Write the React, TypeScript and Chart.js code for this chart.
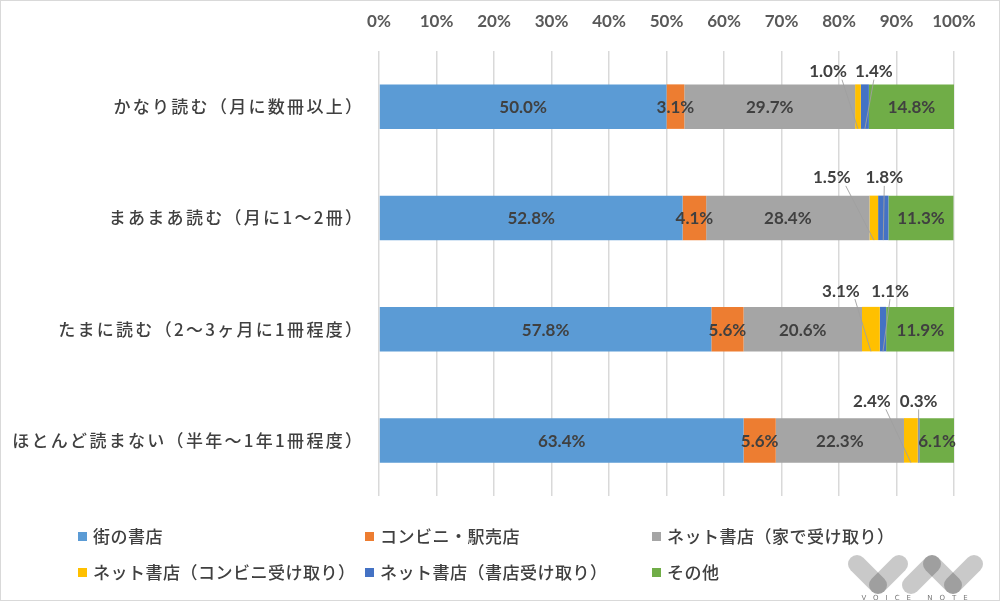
import { useEffect, useRef } from "react";
import { Chart, registerables } from "chart.js";

Chart.register(...registerables);

// ---- data ----
const categories = [
  "かなり読む（月に数冊以上）",
  "まあまあ読む（月に1～2冊）",
  "たまに読む（2～3ヶ月に1冊程度）",
  "ほとんど読まない（半年～1年1冊程度）",
];
const seriesNames = [
  "街の書店",
  "コンビニ・駅売店",
  "ネット書店（家で受け取り）",
  "ネット書店（コンビニ受け取り）",
  "ネット書店（書店受け取り）",
  "その他",
];
const machiShoten = [50.0, 52.8, 57.8, 63.4];
const konbiniEki = [3.1, 4.1, 5.6, 5.6];
const netHome = [29.7, 28.4, 20.6, 22.3];
const netKonbini = [1.0, 1.5, 3.1, 2.4];
const netShoten = [1.4, 1.8, 1.1, 0.3];
const sonota = [14.8, 11.3, 11.9, 6.1];
const xTickLabels = ["0%", "10%", "20%", "30%", "40%", "50%", "60%", "70%", "80%", "90%", "100%"];

// ---- styles ----
const colors = ["#5b9bd5", "#ed7d31", "#a5a5a5", "#ffc000", "#4472c4", "#70ad47"];
// label offsets (px) for the labels that sit above the bar, per dataset index, per category
const outsideOffsets: Record<number, [number, number][]> = {
  3: [[-30, -36], [-42, -41], [-30, -39], [-39, -40]],
  4: [[9, -36], [1, -41], [7, -39], [0, -40]],
};
const legendCols = [78, 365, 652];
const legendRows = [537, 573];

const labelPlugin = {
  id: "customLabels",
  afterDatasetsDraw(chart: any) {
    const ctx = chart.ctx as CanvasRenderingContext2D;
    ctx.save();
    const items: { text: string; x: number; y: number }[] = [];
    chart.data.datasets.forEach((ds: any, di: number) => {
      const meta = chart.getDatasetMeta(di);
      meta.data.forEach((el: any, i: number) => {
        const v = ds.data[i] as number;
        const p = el.getProps(["x", "y", "base", "height"], true);
        const cx = (p.x + p.base) / 2;
        const text = v.toFixed(1) + "%";
        const off = outsideOffsets[di]?.[i];
        if (off) {
          const lx = cx + off[0];
          const ly = p.y + off[1];
          ctx.strokeStyle = "rgba(160,160,160,0.9)";
          ctx.lineWidth = 1;
          ctx.beginPath();
          ctx.moveTo(lx + (off[0] < -15 ? 14 : 0), ly + 9);
          ctx.lineTo(cx, p.y + p.height / 2);
          ctx.stroke();
          items.push({ text, x: lx, y: ly });
        } else {
          items.push({ text, x: cx, y: p.y });
        }
      });
    });
    ctx.font = "bold 17px Lato";
    ctx.fillStyle = "#404040";
    ctx.textAlign = "center";
    ctx.textBaseline = "middle";
    items.forEach((it) => ctx.fillText(it.text, it.x, it.y + 1));
    ctx.restore();
  },
  afterDraw(chart: any) {
    const ctx = chart.ctx as CanvasRenderingContext2D;
    const yScale = chart.scales.y;
    const area = chart.chartArea;
    ctx.save();
    // category labels
    ctx.font = "500 17px 'Noto Sans CJK JP'";
    (ctx as any).letterSpacing = "2.3px";
    ctx.fillStyle = "#404040";
    ctx.textAlign = "right";
    ctx.textBaseline = "middle";
    categories.forEach((c, i) => {
      ctx.fillText(c, area.left - 17 + 2.3, yScale.getPixelForValue(i));
    });
    // legend
    ctx.font = "500 17px 'Noto Sans CJK JP'";
    (ctx as any).letterSpacing = "0.5px";
    ctx.textAlign = "left";
    seriesNames.forEach((name, i) => {
      const col = i % 3;
      const row = Math.floor(i / 3);
      const x = legendCols[col];
      const y = legendRows[row];
      ctx.fillStyle = colors[i];
      ctx.fillRect(x, y - 5, 9, 9);
      ctx.fillStyle = "#404040";
      ctx.fillText(name, x + 15, y);
    });
    (ctx as any).letterSpacing = "0px";
    // watermark logo
    const seg = (x1: number, y1: number, x2: number, y2: number) => {
      ctx.beginPath();
      ctx.moveTo(x1, y1);
      ctx.lineTo(x2, y2);
      ctx.stroke();
    };
    ctx.lineCap = "round";
    ctx.lineWidth = 18;
    ctx.strokeStyle = "rgba(0,0,0,0.21)";
    seg(857, 564, 878, 585);
    seg(899, 564, 878, 585);
    seg(911, 585, 932, 564);
    seg(932, 564, 953, 585);
    seg(953, 585, 974, 564);
    ctx.font = "7px 'DejaVu Sans'";
    (ctx as any).letterSpacing = "7px";
    ctx.fillStyle = "#777777";
    ctx.textAlign = "center";
    ctx.textBaseline = "middle";
    ctx.fillText("VOICE NOTE", 918, 598);
    (ctx as any).letterSpacing = "0px";
    // frame
    ctx.strokeStyle = "#d9d9d9";
    ctx.lineWidth = 1;
    ctx.strokeRect(0.5, 0.5, 999, 600);
    ctx.restore();
  },
};

export default function App() {
  const canvasRef = useRef<HTMLCanvasElement | null>(null);

  useEffect(() => {
    if (!canvasRef.current) return;
    const series = [machiShoten, konbiniEki, netHome, netKonbini, netShoten, sonota];
    const chart = new Chart(canvasRef.current, {
      type: "bar",
      data: {
        labels: categories,
        datasets: series.map((d, i) => ({
          label: seriesNames[i],
          data: d,
          backgroundColor: colors[i],
          borderWidth: 0,
          barPercentage: 0.4,
          categoryPercentage: 1.0,
        })),
      },
      options: {
        indexAxis: "y",
        animation: false,
        responsive: false,
        maintainAspectRatio: false,
        layout: { padding: { left: 0, right: 46, top: 0, bottom: 106 } },
        plugins: {
          legend: { display: false },
          tooltip: { enabled: false },
        },
        scales: {
          x: {
            stacked: true,
            position: "top",
            min: 0,
            max: 100,
            ticks: {
              stepSize: 10,
              callback: (_v: any, i: number) => xTickLabels[i],
              font: { family: "Lato", weight: "bold", size: 17 },
              color: "#595959",
              padding: 19,
            },
            grid: { color: "#d9d9d9", lineWidth: 1.5, drawTicks: false },
            border: { display: false },
            afterFit: (s: any) => {
              s.height = 51;
            },
          },
          y: {
            stacked: true,
            grid: { display: false },
            ticks: { display: false },
            border: { display: false },
            afterFit: (s: any) => {
              s.width = 379;
            },
          },
        },
      } as any,
      plugins: [labelPlugin],
    });
    return () => chart.destroy();
  }, []);

  return (
    <div style={{ position: "fixed", left: 0, top: 0, width: 1000, height: 602, background: "#fff" }}>
      <canvas ref={canvasRef} width={1000} height={602} style={{ display: "block" }} />
    </div>
  );
}
